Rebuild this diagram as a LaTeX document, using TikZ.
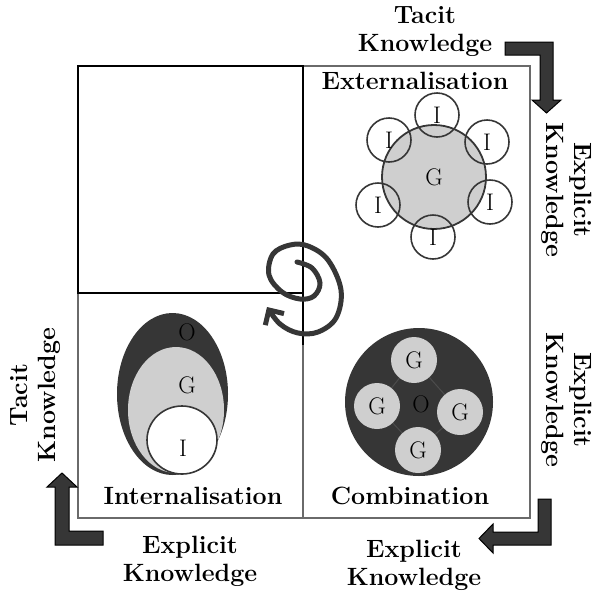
\documentclass[tikz,border=0pt]{standalone}
\usetikzlibrary{arrows.meta}
\definecolor{inkdark}{HTML}{363636}
\definecolor{palegray}{HTML}{CFCFCF}
\definecolor{framegray}{HTML}{6A6A6A}
\definecolor{faintline}{HTML}{4C4C4C}
\begin{document}
\begin{tikzpicture}[x=1pt,y=-1pt,
  lbl/.style={font=\fontsize{25}{28}\selectfont\bfseries, align=center, inner sep=0pt},
  letter/.style={font=\fontsize{24}{28}\selectfont, inner sep=0pt},
  ring/.style={circle, draw=inkdark, line width=1.6pt, minimum size=44pt, inner sep=0pt,
    font=\fontsize{24}{28}\selectfont},
  blob/.style={circle, fill=palegray, minimum size=46pt, inner sep=0pt,
    font=\fontsize{24}{28}\selectfont},
  blockarrow/.style={fill=inkdark, draw=black, line width=1pt, line join=miter},
]
\useasboundingbox (0,0) rectangle (601,592);

% quadrant frame
\draw[framegray, line width=1.8pt] (78,66) rectangle (530,518);
\draw[black, line width=2.4pt] (78,66) rectangle (303,293);
\draw[black, line width=2.6pt] (303,66) -- (303,345);
\draw[framegray, line width=1.8pt] (303,345) -- (303,518);

% quadrant titles
\node[lbl] (ext)  at (415,81)  {Externalisation};
\node[lbl] (int)  at (193,496) {Internalisation};
\node[lbl] (comb) at (410,496) {Combination};

% outer knowledge labels
\node[lbl] (tacitTop)  at (425,32) {Tacit\\Knowledge};
\node[lbl, rotate=-90] (explR1) at (567,190) {Explicit\\Knowledge};
\node[lbl, rotate=-90] (explR2) at (567,400) {Explicit\\Knowledge};
\node[lbl, rotate=90]  (tacitL) at (36,395)  {Tacit\\Knowledge};
\node[lbl] (explB1) at (190,561) {Explicit\\Knowledge};
\node[lbl] (explB2) at (414,565) {Explicit\\Knowledge};

% bent block arrows
\draw[blockarrow] (505,42) -- (553,42) -- (553,100) -- (561,100) -- (546.5,113)
  -- (532,100) -- (540,100) -- (540,55) -- (505,55) -- cycle;
\draw[blockarrow] (538,499) -- (551,499) -- (551,545) -- (493,545) -- (493,553)
  -- (479,538.5) -- (493,524) -- (493,532) -- (538,532) -- cycle;
\draw[blockarrow] (103,531) -- (103,545) -- (55,545) -- (55,487) -- (47,487)
  -- (62,473) -- (77,487) -- (69,487) -- (69,531) -- cycle;

% externalisation: group surrounded by individuals
\node[circle, fill=palegray, draw=inkdark, line width=1.8pt, minimum size=104pt,
  inner sep=0pt, font=\fontsize{24}{28}\selectfont] (gbig) at (434,177) {G};
\node[ring] (i1) at (437,115) {I};
\node[ring] (i2) at (487,142) {I};
\node[ring] (i3) at (490,202) {I};
\node[ring] (i4) at (433,237) {I};
\node[ring] (i5) at (378,205) {I};
\node[ring] (i6) at (389,140) {I};

% combination: groups inside the organisation
\fill[inkdark] (419,402) circle (74);
\draw[faintline, line width=1pt] (414,360) -- (460,412) -- (418,450) -- (377,406) -- cycle;
\node[blob] (g1) at (414,360) {G};
\node[blob] (g2) at (377,406) {G};
\node[blob] (g3) at (460,412) {G};
\node[blob] (g4) at (418,450) {G};
\node[letter, text=black] (oc) at (421,404) {O};

% internalisation: nested organisation, group, individual
\fill[inkdark] (172.5,394) ellipse [x radius=55.5, y radius=81];
\fill[palegray] (176,410) ellipse [x radius=48, y radius=63];
\draw[fill=white, draw=inkdark, line width=1.6pt] (182,440) ellipse [x radius=35, y radius=34];
\node[letter, text=black] (oi) at (187,332) {O};
\node[letter] (gi) at (187,385) {G};
\node[letter] (ii) at (183,448) {I};

% knowledge spiral
\draw[inkdark, line width=5pt, line cap=round,
  -{Straight Barb[length=11pt,width=22pt]}]
  plot[smooth, tension=0.6] coordinates {
    (297,262) (312,268) (320,283) (314,296) (300,299) (282,292) (269,275)
    (273,254) (290,245) (308,246) (328,260) (341,290) (336,318) (318,332)
    (298,333) (280,324) (267,307)};
\end{tikzpicture}
\end{document}
